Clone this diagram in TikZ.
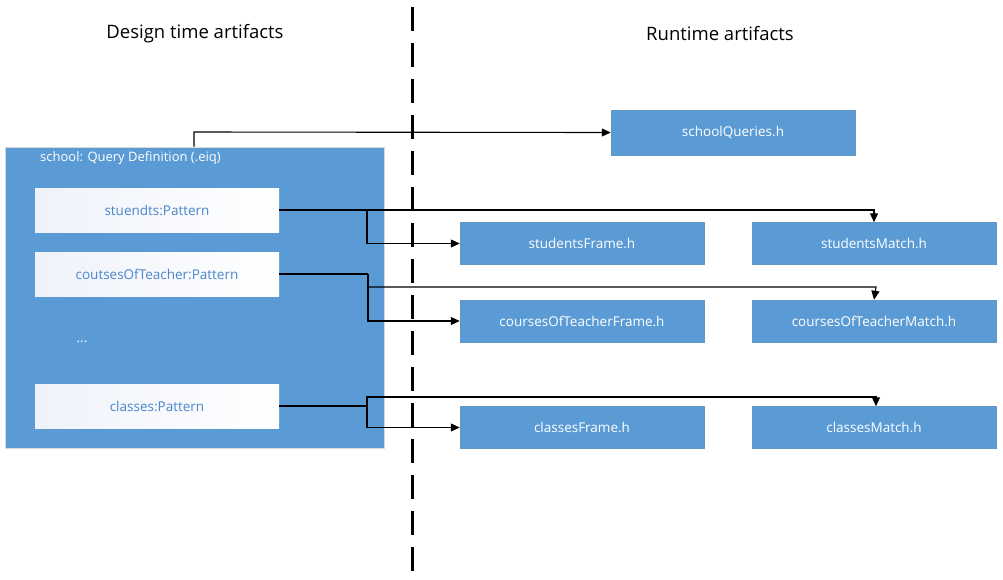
\documentclass[tikz,border=0pt]{standalone}
\usepackage{fontspec}
\setmainfont{Open Sans}
\usetikzlibrary{arrows.meta,calc}
\definecolor{boxblue}{HTML}{5B9BD5}
\definecolor{txtblue}{HTML}{4A86C8}
\definecolor{paleblue}{HTML}{EEF2FA}
\tikzset{
  bluebox/.style={rectangle, fill=boxblue, draw=boxblue!80!gray, line width=0.5pt, minimum width=244pt, minimum height=42pt, inner sep=0pt, text=white, font=\fontsize{13.5}{16}\selectfont},
  patbox/.style={rectangle, left color=paleblue, right color=white, draw=none, minimum width=244pt, minimum height=44pt, inner sep=0pt, text=txtblue, font=\fontsize{13.5}{16}\selectfont},
  conn/.style={draw=black, line width=1.1pt},
  arr/.style={conn, -{Triangle[length=9pt,width=8pt]}},
  header/.style={font=\fontsize{18.5}{22}\selectfont, text=black}
}
\begin{document}
\begin{tikzpicture}[x=1pt,y=-1pt]
\useasboundingbox (0,0) rectangle (1003,579);
% headers
\node[header] (h1) at (195,34) {Design time artifacts};
\node[header] (h2) at (720,34) {Runtime artifacts};
% big container
\node[rectangle, fill=boxblue, draw=gray!30, line width=0.6pt, minimum width=379pt, minimum height=301pt, inner sep=0pt] (school) at (194.5,297.5) {};
\node[anchor=west, text=white, font=\fontsize{13}{15}\selectfont, inner sep=0pt] (title) at (40,158) {school: Query Definition (.eiq)};
\node[patbox] (stud) at (157,210) {stuendts:Pattern};
\node[patbox] (cot) at (157,274) {coutsesOfTeacher:Pattern};
\node[text=white, font=\fontsize{13.5}{16}\selectfont, inner sep=0pt] (dots) at (82,342) {...};
\node[patbox] (cls) at (157,406) {classes:Pattern};
% runtime boxes
\node[bluebox, minimum height=45pt] (sq) at (733,132.5) {schoolQueries.h};
\node[bluebox] (sF) at (582,243.5) {studentsFrame.h};
\node[bluebox] (sM) at (874,243.5) {studentsMatch.h};
\node[bluebox] (cF) at (582,321) {coursesOfTeacherFrame.h};
\node[bluebox] (cM) at (874,321) {coursesOfTeacherMatch.h};
\node[bluebox] (kF) at (582,427.5) {classesFrame.h};
\node[bluebox] (kM) at (874,427.5) {classesMatch.h};
% divider
\coordinate (dtop) at (412,7);
\coordinate (dbot) at (412,572);
\draw[line width=3pt, dash pattern=on 24pt off 12pt] (dtop) -- (dbot);
% connectors
\draw[arr] (school.north -| 194,0) -- (194,132) -- (sq.west);
\coordinate (b1) at (367,210);
\draw[arr] (stud.east) -- (b1) |- (sF.west);
\draw[arr] (stud.east) -| (sM.north);
\coordinate (b2) at (368,274);
\draw[conn] (cot.east) -- (b2);
\draw[arr] (b2) |- (cF.west);
\draw[arr] (b2) |- (876,287) -- (sM.north |- cM.north) ;
\coordinate (b3) at (367,406);
\draw[conn] (cls.east) -- (b3);
\draw[arr] (b3) |- (kF.west);
\draw[arr] (b3) |- (876,397) -- (kM.north -| 876,0);
\end{tikzpicture}
\end{document}
